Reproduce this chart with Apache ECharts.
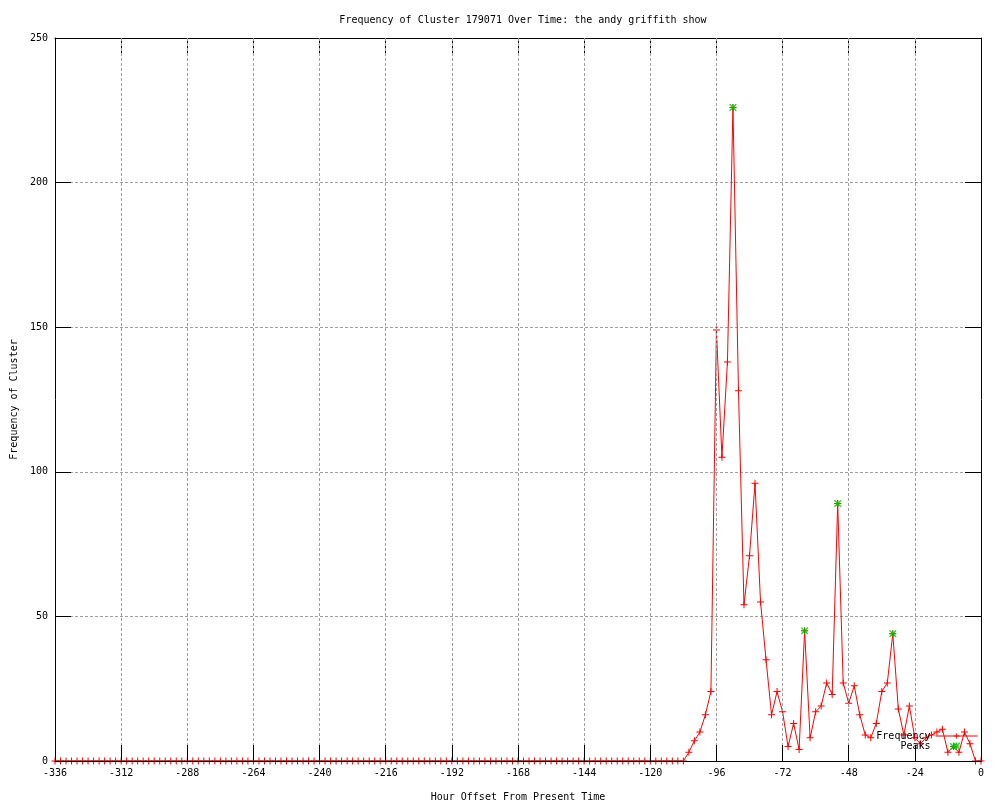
<!DOCTYPE html>
<html>
<head>
<meta charset="utf-8">
<title>Frequency of Cluster 179071 Over Time</title>
<script src="https://cdn.jsdelivr.net/npm/echarts@6/dist/echarts.min.js"></script>
<style>
  html, body { margin: 0; padding: 0; background: #fff; }
  #chart { width: 1000px; height: 800px; }
</style>
</head>
<body>
<div id="chart"></div>
<script>
// frequency per 2-hour step, from -336 up to 0
const freq = [
  0, 0, 0, 0, 0, 0, 0, 0, 0, 0, 0, 0, 0, 0, 0, 0, 0, 0, 0, 0,
  0, 0, 0, 0, 0, 0, 0, 0, 0, 0, 0, 0, 0, 0, 0, 0, 0, 0, 0, 0,
  0, 0, 0, 0, 0, 0, 0, 0, 0, 0, 0, 0, 0, 0, 0, 0, 0, 0, 0, 0,
  0, 0, 0, 0, 0, 0, 0, 0, 0, 0, 0, 0, 0, 0, 0, 0, 0, 0, 0, 0,
  0, 0, 0, 0, 0, 0, 0, 0, 0, 0, 0, 0, 0, 0, 0, 0, 0, 0, 0, 0,
  0, 0, 0, 0, 0, 0, 0, 0, 0, 0, 0, 0, 0, 0, 0,
  3, 7, 10, 16, 24, 149, 105, 138, 226, 128,
  54, 71, 96, 55, 35, 16, 24, 17, 5, 13,
  4, 45, 8, 17, 19, 27, 23, 89, 27, 20,
  26, 16, 9, 8, 13, 24, 27, 44, 18, 9,
  19, 8, 6, 8, 9, 10, 11, 3, 5, 3,
  10, 6, 0, 0
]
const startHour = -336
const stepHours = 2
const hours = freq.map((_, i) => startHour + i * stepHours)

const peakHours = [-90, -64, -52, -32, -10]
const peakValues = [226, 45, 89, 44, 5]

const xTicks = { min: -336, max: 0, interval: 24 }
const yTicks = { min: 0, max: 250, interval: 50 }

const font = 'DejaVu Sans Mono'
const plusSymbol = 'path://M3,0H4V7H3Z M0,3H7V4H0Z'
const starSymbol = 'path://M3,0H4V7H3Z M0,3H7V4H0Z M0,0L1,0L7,6L7,7L6,7L0,1Z M6,0L7,0L7,1L1,7L0,7L0,6Z'

const chart = echarts.init(document.getElementById('chart'), null, { renderer: 'canvas' })

const gridLine = {
  show: true,
  showMinLine: false,
  showMaxLine: false,
  lineStyle: { color: '#a0a0a0', type: [3, 2], width: 1 },
}
const tickStyle = { show: true, inside: true, length: 16, lineStyle: { color: '#000', width: 1 } }
const frameLine = { show: true, onZero: false, lineStyle: { color: '#000', width: 1 } }

const option = {
  animation: false,
  backgroundColor: '#fff',
  title: {
    text: 'Frequency of Cluster 179071 Over Time: the andy griffith show',
    left: 518,
    top: 10,
    textAlign: 'center',
    textStyle: { fontFamily: font, fontSize: 10, fontWeight: 'normal', color: '#000' },
  },
  legend: {
    data: [
      { name: 'Frequency' },
      { name: 'Peaks' },
    ],
    orient: 'vertical',
    align: 'right',
    right: 22,
    bottom: 49,
    padding: 0,
    itemWidth: 42,
    itemHeight: 7,
    itemGap: 0,
    selectedMode: false,
    lineStyle: { width: 1 },
    textStyle: { fontFamily: font, fontSize: 10, color: '#000' },
  },
  grid: { left: 55, right: 19, top: 38, bottom: 39, outerBoundsMode: 'none' },
  xAxis: [
    {
      type: 'value',
      position: 'bottom',
      ...xTicks,
      z: 3,
      name: 'Hour Offset From Present Time',
      nameLocation: 'middle',
      nameGap: 31,
      nameTextStyle: { fontFamily: font, fontSize: 10, color: '#000' },
      axisLine: frameLine,
      axisTick: tickStyle,
      axisLabel: { fontFamily: font, fontSize: 10, color: '#000', margin: 7, showMinLabel: true, showMaxLabel: true },
      splitLine: gridLine,
    },
    {
      type: 'value',
      position: 'top',
      ...xTicks,
      axisLine: frameLine,
      axisTick: tickStyle,
      axisLabel: { show: false },
      splitLine: { show: false },
    },
  ],
  yAxis: [
    {
      type: 'value',
      position: 'left',
      ...yTicks,
      name: 'Frequency of Cluster',
      nameLocation: 'middle',
      nameGap: 36,
      nameTextStyle: { fontFamily: font, fontSize: 10, color: '#000' },
      axisLine: frameLine,
      axisTick: tickStyle,
      axisLabel: { fontFamily: font, fontSize: 10, color: '#000', margin: 7 },
      splitLine: gridLine,
    },
    {
      type: 'value',
      position: 'right',
      ...yTicks,
      axisLine: frameLine,
      axisTick: tickStyle,
      axisLabel: { show: false },
      splitLine: { show: false },
    },
  ],
  series: [
    {
      name: 'Frequency',
      type: 'line',
      data: hours.map((h, i) => [h, freq[i]]),
      symbol: plusSymbol,
      symbolSize: 7,
      showSymbol: true,
      itemStyle: { color: '#ff0000' },
      lineStyle: { color: '#ff0000', width: 1 },
      z: 2,
    },
    {
      name: 'Peaks',
      type: 'scatter',
      data: peakHours.map((h, i) => [h, peakValues[i]]),
      symbol: starSymbol,
      symbolSize: 7,
      itemStyle: { color: '#00c000' },
      z: 4,
    },
  ],
}

chart.setOption(option)
</script>
</body>
</html>
